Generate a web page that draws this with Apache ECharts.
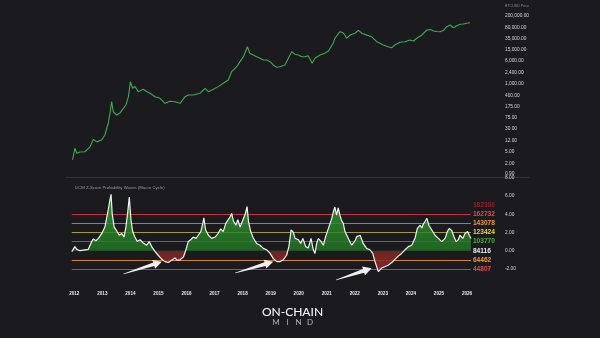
<!DOCTYPE html>
<html><head><meta charset="utf-8">
<script src="https://cdn.jsdelivr.net/npm/echarts@6/dist/echarts.min.js"></script>
<style>html,body{margin:0;padding:0;background:#1b1a1f;}#c{width:600px;height:338px;}</style>
</head><body><div id="c"></div>
<script>
// ---- data ----
const priceYears = [2011.94,2012.02,2012.09,2012.20,2012.38,2012.56,2012.68,2012.80,2012.98,2013.09,2013.21,2013.27,2013.33,2013.39,2013.51,2013.63,2013.75,2013.84,2013.93,2014.00,2014.08,2014.16,2014.28,2014.46,2014.58,2014.70,2014.88,2015.06,2015.23,2015.41,2015.59,2015.77,2015.95,2016.06,2016.24,2016.48,2016.66,2016.78,2016.96,2017.13,2017.31,2017.49,2017.61,2017.79,2017.91,2018.03,2018.17,2018.26,2018.38,2018.50,2018.62,2018.74,2018.86,2018.98,2019.09,2019.22,2019.33,2019.51,2019.63,2019.75,2019.87,2019.99,2020.11,2020.22,2020.34,2020.48,2020.58,2020.76,2020.93,2021.06,2021.12,2021.23,2021.29,2021.35,2021.47,2021.57,2021.65,2021.71,2021.83,2022.01,2022.13,2022.25,2022.43,2022.60,2022.78,2022.90,2023.01,2023.19,2023.32,2023.43,2023.61,2023.79,2023.97,2024.09,2024.21,2024.39,2024.57,2024.69,2024.81,2024.92,2025.04,2025.16,2025.28,2025.40,2025.52,2025.64,2025.75,2025.87,2025.99,2026.11];
const priceValues = [2.7,6.7,4.5,5.0,5.1,7.5,13.4,11,13,18.8,47,102,252,115,89,105,150,195,372,1196,715,820,550,660,560,484,372,328,222,260,251,222,372,424,424,484,715,550,660,816,1054,1366,2612,3850,5690,8400,18300,10900,9600,8400,7400,6500,6500,5700,4400,3670,3850,4400,7400,12400,10000,9600,8400,8400,9000,5000,7400,9600,10900,13000,16100,23800,35200,39900,58900,55000,45000,35200,45500,52000,65000,52000,45000,39900,27000,23800,20900,18300,16900,20900,25800,27000,30800,28500,35200,45500,67200,70000,62000,60000,58900,65000,86900,99200,80000,94000,105000,107000,113000,118000];

const zYears = [2011.91,2011.96,2012.02,2012.09,2012.20,2012.38,2012.50,2012.62,2012.68,2012.77,2012.86,2012.98,2013.09,2013.16,2013.21,2013.27,2013.31,2013.35,2013.42,2013.51,2013.60,2013.69,2013.77,2013.84,2013.90,2013.96,2014.02,2014.08,2014.16,2014.25,2014.34,2014.46,2014.58,2014.67,2014.76,2014.88,2014.99,2015.12,2015.23,2015.35,2015.47,2015.59,2015.67,2015.77,2015.89,2015.98,2016.06,2016.15,2016.24,2016.34,2016.42,2016.51,2016.58,2016.62,2016.68,2016.78,2016.90,2017.02,2017.13,2017.22,2017.31,2017.40,2017.47,2017.55,2017.61,2017.67,2017.76,2017.83,2017.91,2018.00,2018.09,2018.16,2018.21,2018.29,2018.38,2018.50,2018.62,2018.74,2018.86,2018.98,2019.09,2019.22,2019.33,2019.45,2019.57,2019.65,2019.73,2019.81,2019.87,2019.99,2020.07,2020.15,2020.25,2020.34,2020.44,2020.52,2020.58,2020.64,2020.70,2020.80,2020.88,2020.96,2021.06,2021.18,2021.23,2021.29,2021.35,2021.41,2021.47,2021.53,2021.59,2021.65,2021.77,2021.89,2022.01,2022.07,2022.19,2022.30,2022.42,2022.54,2022.64,2022.72,2022.78,2022.84,2022.96,2023.08,2023.19,2023.32,2023.43,2023.55,2023.67,2023.79,2023.91,2024.03,2024.15,2024.23,2024.33,2024.39,2024.44,2024.50,2024.57,2024.64,2024.74,2024.86,2024.98,2025.10,2025.22,2025.30,2025.37,2025.46,2025.54,2025.61,2025.69,2025.75,2025.85,2025.93,2026.02,2026.08,2026.14];
const zValues = [-0.1,0.15,0.45,0.15,0.0,0.1,0.15,1.0,1.3,1.1,1.35,1.9,2.6,3.7,4.5,5.6,6.2,4.1,2.6,2.2,1.7,1.9,1.5,2.6,4.1,5.9,3.4,2.1,1.5,1.0,1.2,0.85,0.6,1.0,0.45,-0.1,-0.5,-0.95,-1.2,-1.3,-1.05,-0.8,-1.05,-1.0,-0.7,0.1,1.0,1.2,1.5,1.35,1.7,2.1,3.0,3.6,2.3,1.7,1.35,1.5,1.9,2.4,2.1,3.0,2.8,3.7,4.1,3.3,2.8,3.4,2.6,3.3,4.0,4.85,3.2,2.1,1.4,0.8,0.6,0.25,0.1,-0.3,-0.85,-1.2,-1.2,-1.0,-0.5,0.45,2.3,2.0,1.35,1.2,0.8,1.35,0.45,0.3,1.35,0.1,-0.3,0.8,1.35,1.0,0.6,1.55,2.45,3.55,4.2,4.8,3.9,4.7,3.9,3.3,3.0,2.1,1.35,0.6,1.1,1.55,1.7,0.8,0.25,0.1,-0.3,-1.2,-1.75,-2.3,-1.9,-1.75,-1.6,-1.3,-0.95,-0.6,-0.3,0.1,0.45,0.6,1.4,2.45,2.8,2.5,2.9,3.0,3.55,2.8,2.3,1.7,1.35,1.0,1.35,2.1,2.45,2.2,1.5,1.0,1.2,1.7,1.35,1.9,2.1,1.7,1.35];

const yearTicks = [2012,2013,2014,2015,2016,2017,2018,2019,2020,2021,2022,2023,2024,2025,2026];
const priceTicks = [0.9,2,5,12,30,75,175,400,1000,2400,6000,15000,35000,80000,200000];
const zTicks = [-2,0,2,4,6,8];
const bandLevels = [5,4,3,2,1,0,-1,-2];
const bandPrices = [182386,162732,143078,123424,103770,84116,64462,44807];
const bandLabelColors = ['#8e2026','#e4484e','#ef9a33','#e6d63c','#4cad4a','#ececec','#ef9a33','#e4484e'];
const bandLineColors = ['rgba(0,0,0,0)','#c0343f','#c27424','#a09c30','#34863b','rgba(0,0,0,0)','#d6842a','#c83e4c'];
// arrows: [tailYear, tailZ, headYear, headZ]
const arrows = [[2013.75,-2.56,2015.12,-1.21],[2017.73,-2.45,2019.09,-1.21],[2021.33,-3.22,2022.60,-1.93]];

// ---- chart ----
const XMIN = 2011.704, XMAX = 2027.177;
const FONT = '"Liberation Sans", Arial, sans-serif';
function fmtPrice(v){
  const r = Math.round(v*100)/100;
  return r.toLocaleString('en-US',{minimumFractionDigits:2, maximumFractionDigits:2});
}
const chart = echarts.init(document.getElementById('c'), null, {renderer:'canvas'});
const priceData = priceYears.map((y,i)=>[y, priceValues[i]]);
const zData = zYears.map((y,i)=>[y, zValues[i]]);
const zFirst = zYears[0], zLast = zYears[zYears.length-1];
// area polygon spans from max(z) to min(z) (baseline 0 lies inside); split colour at z = 0
const zMax = Math.max(...zValues), zMin = Math.min(...zValues);
const split = zMax/(zMax - zMin);
const areaFill = new echarts.graphic.LinearGradient(0,0,0,1,[
  {offset:0, color:'rgba(52,160,52,0.85)'},
  {offset:split, color:'rgba(34,118,34,0.8)'},
  {offset:split, color:'rgba(125,38,36,0.85)'},
  {offset:1, color:'rgba(145,42,38,0.9)'}
]);

chart.setOption({
  backgroundColor:'#1b1a1f',
  animation:false,
  textStyle:{fontFamily:FONT},
  title:{text:'DCM Z-Score Probability Waves (Macro Cycle)', left:70, top:180.5,
    textStyle:{color:'#9c9ca2', fontSize:4.3, fontWeight:'normal', fontFamily:FONT}},
  grid:[
    {left:66, right:100, top:10, height:167},
    {left:66, right:100, top:177, height:111}
  ],
  xAxis:[
    {gridIndex:0, type:'value', min:XMIN, max:XMAX, show:false},
    {gridIndex:1, type:'value', min:XMIN, max:XMAX,
      axisLine:{show:false}, axisTick:{show:false}, splitLine:{show:false},
      axisLabel:{customValues:yearTicks, formatter:v=>String(Math.round(v)), color:'#e8e8e8',
        fontSize:4.6, fontWeight:'bold', margin:3, fontFamily:FONT}}
  ],
  yAxis:[
    {gridIndex:0, type:'log', logBase:10, min:0.713, max:319000, position:'right',
      axisLine:{show:false}, axisTick:{show:false}, splitLine:{show:false},
      axisLabel:{customValues:priceTicks, formatter:fmtPrice, color:'#d6d6d6', fontSize:4.8, margin:5, fontFamily:FONT}},
    {gridIndex:1, type:'value', min:-4.1, max:8.1, position:'right',
      axisLine:{show:false}, axisTick:{show:false}, splitLine:{show:false},
      axisLabel:{customValues:zTicks, formatter:v=>v.toFixed(2), color:'#d6d6d6', fontSize:4.8, margin:5, fontFamily:FONT}}
  ],
  series:[
    {type:'line', xAxisIndex:0, yAxisIndex:0, data:priceData, showSymbol:false, silent:true,
      lineStyle:{color:'#3dab4d', width:1.1}},
    {type:'line', xAxisIndex:1, yAxisIndex:1, data:zData, showSymbol:false, silent:true, z:3,
      lineStyle:{color:'#f2f2f2', width:1.2},
      areaStyle:{color:areaFill, opacity:1, origin:0},
      markLine:{silent:true, symbol:['none','none'], animation:false, z:2,
        data:bandLevels.map((lvl,i)=>[
          {coord:[zFirst,lvl], lineStyle:{color:bandLineColors[i], width:1, type:'solid'},
            label:{show:true, position:'end', distance:2, formatter:String(bandPrices[i]),
              color:bandLabelColors[i], fontSize:6.6, fontWeight:'bold', fontFamily:FONT}},
          {coord:[zLast,lvl]}
        ])}
    },
    {type:'custom', coordinateSystem:'cartesian2d', xAxisIndex:1, yAxisIndex:1, silent:true, z:10, data:arrows,
      encode:{x:[0,2], y:[1,3]},
      renderItem:function(params, api){
        const a = api.coord([api.value(0), api.value(1)]);
        const b = api.coord([api.value(2), api.value(3)]);
        const dx=b[0]-a[0], dy=b[1]-a[1], L=Math.hypot(dx,dy);
        const ux=dx/L, uy=dy/L, nx=-uy, ny=ux;
        const hl=8.5, hw=4.6, bw=1.9, tw=0.3;
        const bx=b[0]-ux*hl, by=b[1]-uy*hl;
        const pts=[[a[0]+nx*tw,a[1]+ny*tw],[bx+nx*bw,by+ny*bw],[bx+nx*hw,by+ny*hw],[b[0],b[1]],
                   [bx-nx*hw,by-ny*hw],[bx-nx*bw,by-ny*bw],[a[0]-nx*tw,a[1]-ny*tw]];
        return {type:'polygon', shape:{points:pts}, style:{fill:'#f0f0f0'}};
      }}
  ],
  graphic:[
    {type:'line', shape:{x1:66,y1:177.5,x2:530,y2:177.5}, style:{stroke:'#323138', lineWidth:1}, silent:true},
    {type:'text', left:505, top:4, style:{text:'BTCUSD Price', fill:'#8a8a90', font:'3.6px '+FONT}, silent:true},
    {type:'text', x:292.5, y:312, style:{text:'ON-CHAIN', fill:'#f4f4f4', font:'500 12px Lato, "Noto Sans", sans-serif', align:'center', verticalAlign:'middle'}, silent:true},
    {type:'text', x:276, y:322.5, style:{text:'M', fill:'#b4b4b8', font:'8px Lato, "Noto Sans", sans-serif', align:'center', verticalAlign:'middle'}, silent:true},
    {type:'text', x:287.5, y:322.5, style:{text:'I', fill:'#b4b4b8', font:'8px Lato, "Noto Sans", sans-serif', align:'center', verticalAlign:'middle'}, silent:true},
    {type:'text', x:298.5, y:322.5, style:{text:'N', fill:'#b4b4b8', font:'8px Lato, "Noto Sans", sans-serif', align:'center', verticalAlign:'middle'}, silent:true},
    {type:'text', x:310, y:322.5, style:{text:'D', fill:'#b4b4b8', font:'8px Lato, "Noto Sans", sans-serif', align:'center', verticalAlign:'middle'}, silent:true}
  ]
});
</script>
</body></html>
